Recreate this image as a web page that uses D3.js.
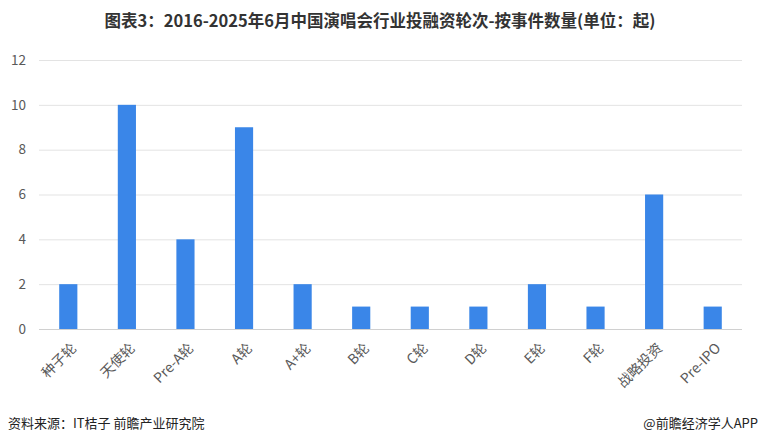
<!DOCTYPE html>
<html><head><meta charset="utf-8">
<script src="https://cdn.jsdelivr.net/npm/d3@7"></script>
<style>body{margin:0;background:#fff}svg{display:block}text{font-family:"Noto Sans CJK SC","Noto Sans",sans-serif}</style>
</head><body><svg id="c" width="760" height="444"></svg>
<script>
const categories = ["种子轮","天使轮","Pre-A轮","A轮","A+轮","B轮","C轮","D轮","E轮","F轮","战略投资","Pre-IPO"];
const values = [2,10,4,9,2,1,1,1,2,1,6,1];
const yTicks = [0,2,4,6,8,10,12];
const title = "图表3：2016-2025年6月中国演唱会行业投融资轮次-按事件数量(单位：起)";
const source = "资料来源：IT桔子 前瞻产业研究院";
const credit = "@前瞻经济学人APP";

const svg = d3.select("#c");
const m = {l:39, r:18, t:60, b:115};
const W = 760, H = 444;
const x = d3.scaleBand().domain(categories).range([m.l, W - m.r]).paddingInner(0.69).paddingOuter(0.345);
const y = d3.scaleLinear().domain([0,12]).range([329, 60]);

svg.append("text").attr("x",380).attr("y",27).attr("text-anchor","middle")
  .attr("font-size",16.5).attr("font-weight","bold").attr("fill","#333").text(title);

const g = svg.append("g");
g.selectAll("line.grid").data(yTicks).join("line")
  .attr("x1",m.l).attr("x2",W-m.r).attr("y1",d=>y(d)+0.5).attr("y2",d=>y(d)+0.5)
  .attr("stroke",d=>d===0?"#d0d0d0":"#e3e3e3").attr("stroke-width",1);

const yAxis = d3.axisLeft(y).tickValues(yTicks).tickSize(0).tickPadding(0);
svg.append("g").attr("transform",`translate(${m.l-13},0)`).call(yAxis)
  .call(s=>s.select(".domain").remove())
  .call(s=>s.selectAll("text").attr("font-size",13.5).attr("fill","#595959").attr("font-family","'Noto Sans','Open Sans',sans-serif"));

g.selectAll("rect").data(values).join("rect")
  .attr("x",(d,i)=>x(categories[i])).attr("width",x.bandwidth())
  .attr("y",d=>y(d)).attr("height",d=>y(0)-y(d)).attr("fill","#3a86e8");

const xAxis = d3.axisBottom(x).tickSize(0).tickPadding(0);
svg.append("g").attr("transform",`translate(0,${y(0)})`).call(xAxis)
  .call(s=>s.select(".domain").remove())
  .call(s=>s.selectAll("text").attr("font-size",14).attr("fill","#595959")
     .attr("text-anchor","end").attr("dy",null).attr("y",0)
     .attr("transform","translate(9,20) rotate(-45)"));

svg.append("text").attr("x",8).attr("y",428).attr("font-size",13).attr("fill","#222").text(source);
svg.append("text").attr("x",758).attr("y",428).attr("text-anchor","end").attr("font-size",13).attr("fill","#222").text(credit);
</script></body></html>
